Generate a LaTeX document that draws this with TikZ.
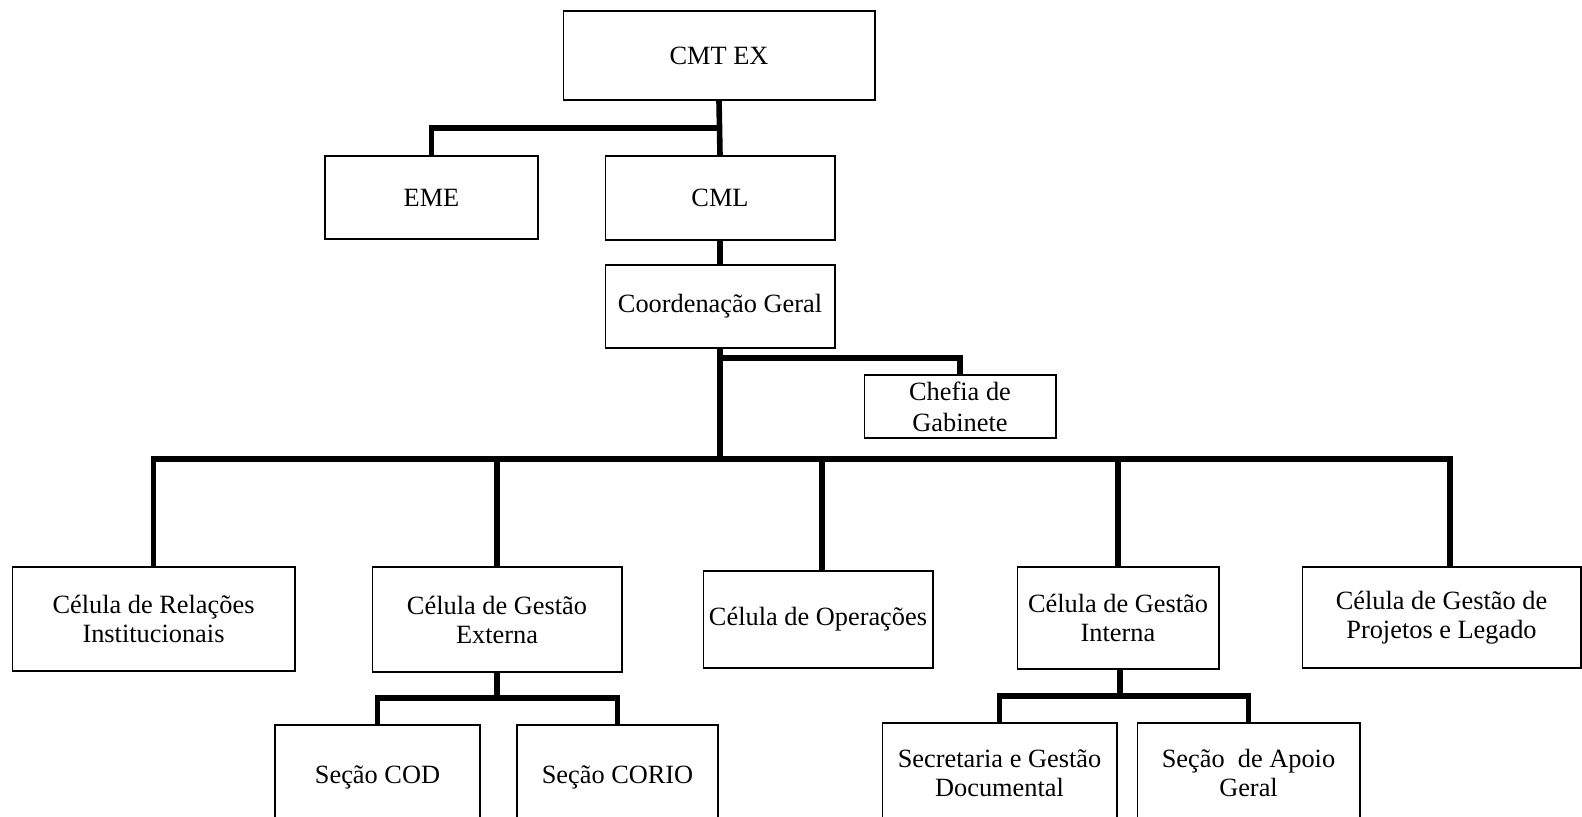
\documentclass[tikz,border=0pt]{standalone}
\usepackage{fontspec}
\setmainfont{Liberation Serif}
\begin{document}
\begin{tikzpicture}[x=0.02cm, y=-0.02cm,
        caixa/.style={draw, line width=0.6pt, align=center, inner sep=2pt, font=\fontsize{15}{16.5}\selectfont},
        ligacao/.style={line width=3.2pt}]
                \useasboundingbox (0,0) rectangle (1582,817);
                
                \node[caixa, minimum width=6.24cm, minimum height=1.78cm] (cmt) at (719,55.5) {CMT EX};
                \node[caixa, minimum width=4.26cm, minimum height=1.66cm] (eme) at (431.5,197.5) {EME};
                \node[caixa, minimum width=4.6cm, minimum height=1.68cm] (cml) at (720,198) {CML};
                \node[caixa, minimum width=4.6cm, minimum height=1.66cm] (coord) at (720,306.5) {Coordenação Geral};
                \node[caixa, minimum width=3.84cm, minimum height=1.26cm] (chefia) at (960,406.5) {Chefia de\\[1pt]Gabinete};
                
                % Células
                \node[caixa, minimum width=5.66cm, minimum height=2.08cm] (rel) at (153.5,619) {Célula de Relações\\Institucionais};
                \node[caixa, minimum width=5.0cm, minimum height=2.1cm] (ext) at (497,619.5) {Célula de Gestão\\Externa};
                \node[caixa, minimum width=4.6cm, minimum height=1.94cm] (op) at (818,619.5) {Célula de Operações};
                \node[caixa, minimum width=4.04cm, minimum height=2.04cm] (int) at (1118,618) {Célula de Gestão\\Interna};
                \node[caixa, minimum width=5.58cm, minimum height=2.02cm] (proj) at (1441.5,617.5) {Célula de Gestão de\\Projetos e Legado};
                
                % Seções
                \node[caixa, minimum width=4.1cm, minimum height=2.08cm] (cod) at (377.5,777) {Seção COD};
                \node[caixa, minimum width=4.02cm, minimum height=2.08cm] (corio) at (617.5,777) {Seção CORIO};
                \node[caixa, minimum width=4.7cm, minimum height=2.0cm] (sec) at (999.5,773) {Secretaria e Gestão\\Documental};
                \node[caixa, minimum width=4.46cm, minimum height=2.0cm] (apoio) at (1248.5,773) {Seção\ \ de Apoio\\Geral};
                
                \coordinate (j1) at (719,128);
                \coordinate (j2) at (720,358);
                \coordinate (j3) at (720,459);
                \coordinate (j4) at (497,698);
                \coordinate (j5) at (1120,696);
                
                \draw[ligacao] (cmt.south) -- (cml.north);
                \draw[ligacao] (j1) -| (eme.north);
                \draw[ligacao] (cml.south) -- (coord.north);
                \draw[ligacao] (coord.south) -- (j3);
                \draw[ligacao] (j2) -| (chefia.north);
                \draw[ligacao] (rel.north) |- (j3) -| ([xshift=0.17cm]proj.north);
                \draw[ligacao] ([xshift=0.08cm]op.north) -- ([xshift=0.08cm]op.north |- j3);
                \foreach \n in {ext, int} { \draw[ligacao] (\n.north) -- (\n.north |- j3); }
                
                \draw[ligacao] (ext.south) -- (j4);
                \draw[ligacao] (cod.north) |- (j4) -| (corio.north);
                \draw[ligacao] (int.south -| j5) -- (j5);
                \draw[ligacao] (sec.north) |- (j5) -| (apoio.north);
            \end{tikzpicture}
\end{document}
